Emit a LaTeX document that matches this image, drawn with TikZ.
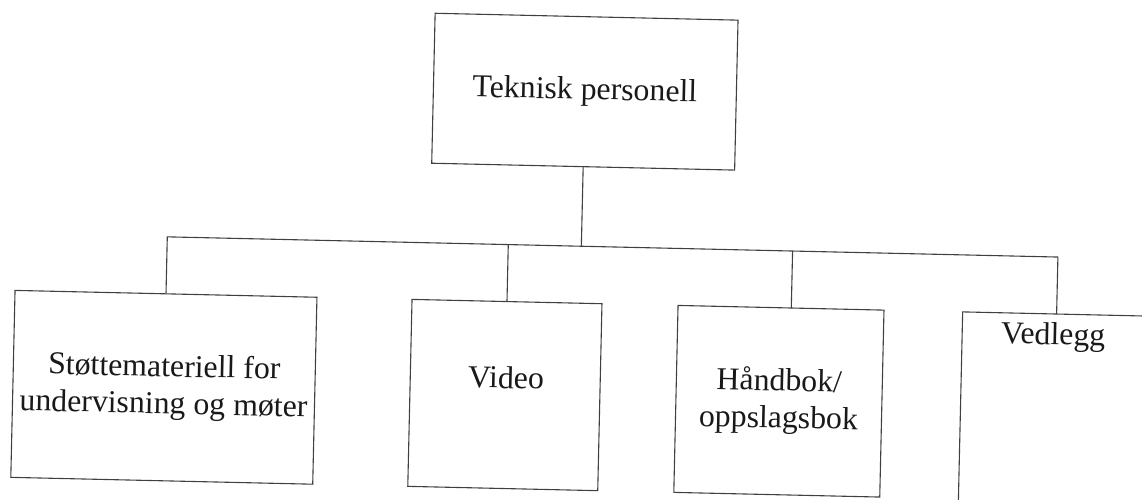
\documentclass[tikz,border=0pt]{standalone}
\usepackage{fontspec}
\setmainfont{Liberation Serif}
\begin{document}
\begin{tikzpicture}[x=1pt,y=1pt,
  box/.style={draw=black!75, line width=1.1pt, inner sep=0pt, align=center, text=black!90,
    font=\fontsize{31.8}{37}\selectfont},
  lbl/.style={inner sep=0pt, text=black!90, font=\fontsize{31.8}{37}\selectfont},
  conn/.style={draw=black!75, line width=1.1pt}]
\useasboundingbox (0,0) rectangle (1142,499);
\begin{scope}[rotate around={-1.3:(571,250)}, transform shape]
  \node[box, minimum width=303pt, minimum height=150pt] (top) at (581.3,407.6) {Teknisk personell};
  \node[box, minimum width=302pt, minimum height=187pt] (b1) at (167.1,102.5) {Støttemateriell for\\undervisning og møter};
  \node[box, minimum width=190pt, minimum height=187pt] (b2) at (508.2,102.5) {};
  \node[lbl] (tv) at (509,120) {Video};
  \node[box, minimum width=206pt, minimum height=187pt] (b3) at (782.3,102.5) {Håndbok/\\oppslagsbok};
  \node[box, minimum width=220pt, minimum height=207pt] (b4) at (1074,92.5) {};
  \node[lbl] (t4) at (1055,173) {Vedlegg};
  \coordinate (j0) at (581.3,253);
  \coordinate (j1) at (167.1,253);
  \coordinate (j2) at (508.2,253);
  \coordinate (j3) at (792.6,253);
  \coordinate (j4) at (1058,253);
  \coordinate (d3) at (792.6,196);
  \coordinate (d4) at (1058,196);
  \draw[conn] (top.south) -- (j0);
  \draw[conn] (b1.north) -- (j1) -- (j4) -- (d4);
  \draw[conn] (b2.north) -- (j2);
  \draw[conn] (d3) -- (j3);
\end{scope}
\end{tikzpicture}
\end{document}
